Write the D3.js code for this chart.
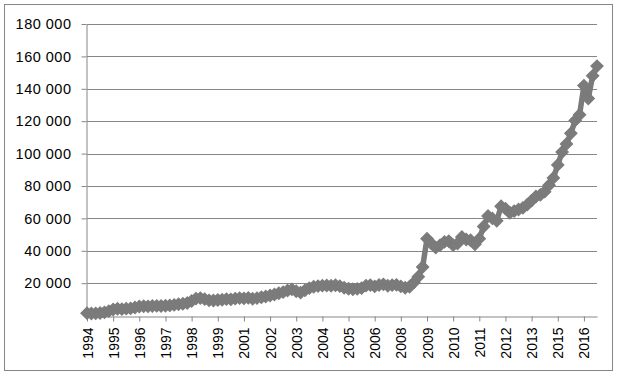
<!DOCTYPE html>
<meta charset="utf-8">
<script src="https://d3js.org/d3.v7.min.js"></script>
<style>
  body { margin: 0; background: #fff; }
  text { font-family: "Liberation Sans", Arial, sans-serif; fill: #000; }
</style>
<div id="my_dataviz"></div>
<script>

// category labels, one shown every 6 points on the axis
var yearLabels = ["1994", "1995", "1996", "1997", "1998", "1999", "2001", "2002", "2003", "2004",
                  "2005", "2006", "2008", "2009", "2010", "2011", "2012", "2013", "2015", "2016"];
var labelEvery = 6;

// series values
var values = [
  1500, 1300, 1400, 1600, 2000, 2800,
  3800, 4200, 4000, 4300, 4500, 5000,
  5600, 5800, 5700, 5900, 6000, 5900,
  6100, 6300, 6600, 7000, 7300, 7800,
  9000, 10500, 10800, 10200, 9400, 9300,
  9600, 9800, 10200, 10000, 10500, 10800,
  10600, 10900, 10400, 10800, 11300, 11800,
  12400, 13000, 13800, 14500, 15500, 16200,
  15000, 14200, 15600, 17000, 17800, 18200,
  18500, 18600, 18400, 18700, 18200, 17200,
  16600, 16300, 16500, 17000, 18500, 18800,
  18000, 18900, 19300, 18400, 18800, 19000,
  18000, 17200, 17800, 20500, 24000, 30000,
  47500, 44500, 42000, 43500, 45500, 46000,
  43500, 44500, 48500, 47000, 46500, 44000,
  47500, 55000, 61500, 60000, 58500, 67500,
  66000, 63500, 64500, 65500, 66500, 68500,
  71000, 73500, 74500, 76500, 80500, 85000,
  93000, 101000, 106000, 112500, 120500, 124000,
  142000, 134000, 148000, 154000
];

var yTicks = [20000, 40000, 60000, 80000, 100000, 120000, 140000, 160000, 180000];

var W = 622, H = 375;
var plotL = 87, plotR = 597, plotT = 24, plotB = 315.6;

var svg = d3.select("#my_dataviz")
  .append("svg")
  .attr("width", W)
  .attr("height", H);

// chart border
svg.append("rect")
  .attr("x", 4.5).attr("y", 4.5)
  .attr("width", 608).attr("height", 366)
  .attr("fill", "#fff")
  .attr("stroke", "#868686")
  .attr("stroke-width", 1);

var x = d3.scalePoint()
  .domain(d3.range(values.length))
  .range([plotL, plotR]);

var y = d3.scaleLinear()
  .domain([0, 180000])
  .range([plotB, plotT]);

// gridlines
svg.append("g")
  .selectAll("line")
  .data(yTicks)
  .enter()
  .append("line")
  .attr("x1", plotL).attr("x2", plotR)
  .attr("y1", function (d) { return Math.round(y(d)) + 0.5; })
  .attr("y2", function (d) { return Math.round(y(d)) + 0.5; })
  .attr("stroke", "#868686")
  .attr("stroke-width", 1);

var fmt = d3.formatLocale({ decimal: ",", thousands: " ", grouping: [3], currency: ["", ""] }).format(",d");

// y axis
var yAxis = svg.append("g")
  .attr("transform", "translate(" + (plotL - 0.5) + ",0)")
  .call(d3.axisLeft(y).tickValues(yTicks).tickFormat(fmt).tickSize(5).tickSizeOuter(0).tickPadding(10));
yAxis.selectAll("text").style("font-size", "14.5px").style("letter-spacing", "0.5px");

// x axis
var tickIdx = d3.range(0, values.length, labelEvery);
var xAxis = svg.append("g")
  .attr("transform", "translate(0," + (Math.round(plotB) + 0.5) + ")")
  .call(d3.axisBottom(x).tickValues(tickIdx)
    .tickFormat(function (d) { return yearLabels[d / labelEvery]; })
    .tickSize(5).tickSizeOuter(0));
xAxis.selectAll("text")
  .attr("transform", "rotate(-90)")
  .attr("x", -11)
  .attr("y", 0)
  .attr("dy", "0.36em")
  .style("text-anchor", "end")
  .style("font-size", "14px");

svg.selectAll(".domain, .tick line").attr("stroke", "#868686");

// the series line
var line = d3.line()
  .x(function (d, i) { return x(i); })
  .y(function (d) { return y(d); });

svg.append("path")
  .datum(values)
  .attr("d", line)
  .attr("fill", "none")
  .attr("stroke", "#7b7b7b")
  .attr("stroke-width", 5.5)
  .attr("stroke-linejoin", "round");

// diamond markers
svg.append("g")
  .selectAll("path")
  .data(values)
  .enter()
  .append("path")
  .attr("d", d3.symbol().type(d3.symbolSquare).size(74))
  .attr("transform", function (d, i) { return "translate(" + x(i) + "," + y(d) + ") rotate(45)"; })
  .attr("fill", "#7b7b7b")
  .attr("stroke", "#7b7b7b")
  .attr("stroke-width", 1.2);

</script>
